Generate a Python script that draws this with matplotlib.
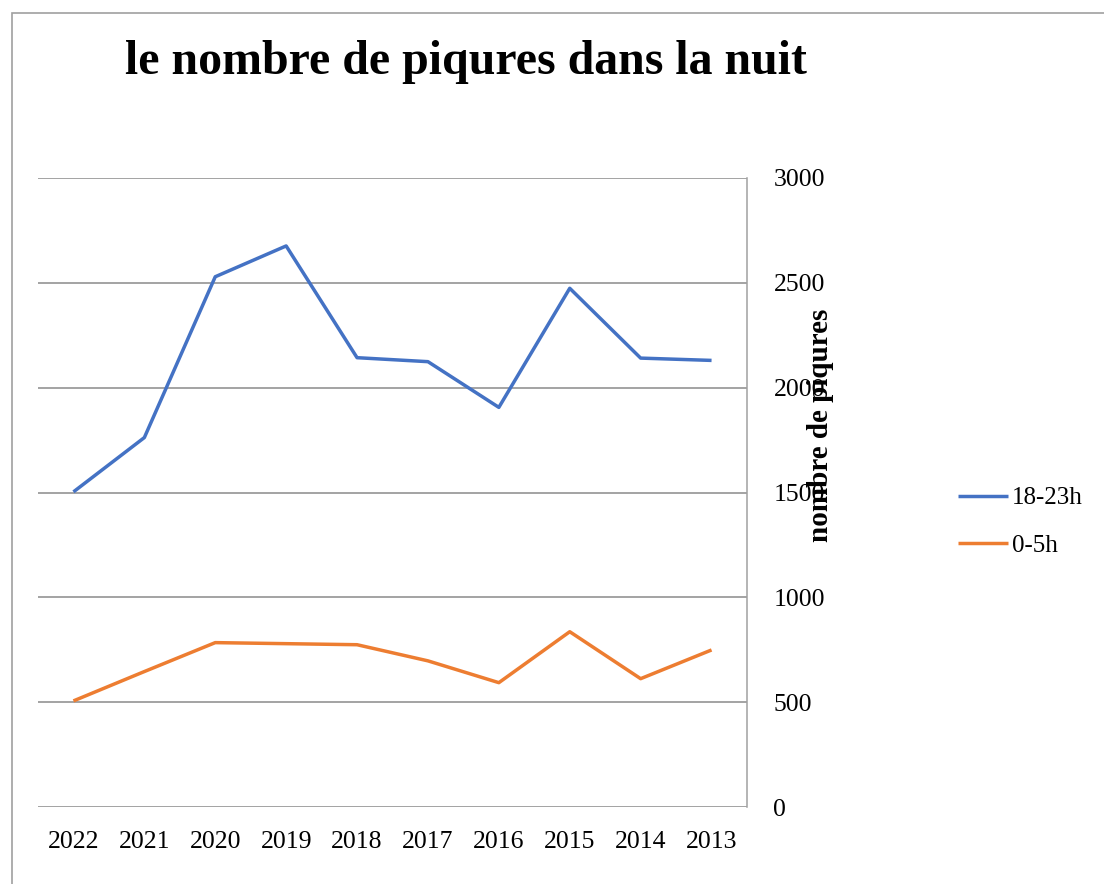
import matplotlib
matplotlib.use("Agg")
from matplotlib import pyplot as plt
from matplotlib.patches import Rectangle

years = ["2022", "2021", "2020", "2019", "2018", "2017", "2016", "2015", "2014", "2013"]
soir = [1503, 1762, 2529, 2676, 2143, 2124, 1906, 2474, 2141, 2130]   # 18-23h
nuit = [506, 646, 784, 779, 774, 697, 593, 836, 612, 749]             # 0-5h
yticks = [0, 500, 1000, 1500, 2000, 2500, 3000]

plt.rcParams['font.family'] = ['Liberation Serif', 'DejaVu Serif']

fig = plt.figure(figsize=(11.04, 8.84), dpi=100)
ax = fig.add_axes([38 / 1104, 1 - 807 / 884, (747 - 38) / 1104, (807 - 178) / 884])

x = range(len(years))
ax.plot(x, soir, color="#4472C4", linewidth=2.5, label="18-23h", solid_capstyle="butt")
ax.plot(x, nuit, color="#ED7D31", linewidth=2.5, label="0-5h", solid_capstyle="butt")

ax.set_xlim(-0.5, len(years) - 0.5)
ax.set_ylim(0, 3000)
ax.set_xticks(list(x))
ax.set_xticklabels(years, fontsize=18.5)
ax.set_yticks(yticks)
ax.set_yticklabels([str(v) for v in yticks], fontsize=18.5)
ax.yaxis.tick_right()
ax.tick_params(axis="both", length=0)
ax.tick_params(axis="x", pad=17)
ax.tick_params(axis="y", pad=19)
ax.grid(axis="y", color="#8a8a8a", linewidth=1.1)
ax.set_axisbelow(True)
for s in ["top", "left", "bottom"]:
    ax.spines[s].set_visible(False)
ax.spines["right"].set_color("#a0a0a0")
ax.spines["right"].set_linewidth(1.1)

# the axis title sits over the tick labels, as in the original
fig.text(821 / 1104, 1 - 425 / 884, "nombre de piqures", rotation=90, fontsize=21,
         fontweight="bold", ha="center", va="center")
fig.text(466 / 1104, 1 - 62 / 884, "le nombre de piqures dans la nuit", fontsize=34.5,
         fontweight="bold", ha="center", va="center")

fig.legend(loc="center left", bbox_to_anchor=(958 / 1104, 1 - 522 / 884), frameon=False,
           fontsize=18, handlelength=2.0, handletextpad=0.16, labelspacing=1.0,
           borderpad=0, borderaxespad=0)

fig.add_artist(Rectangle((12 / 1104, -0.1), 1.2, 1.1 - 13 / 884, transform=fig.transFigure,
                         fill=False, edgecolor="#a0a0a0", linewidth=1.2))

fig.savefig("out.png", dpi=100)
